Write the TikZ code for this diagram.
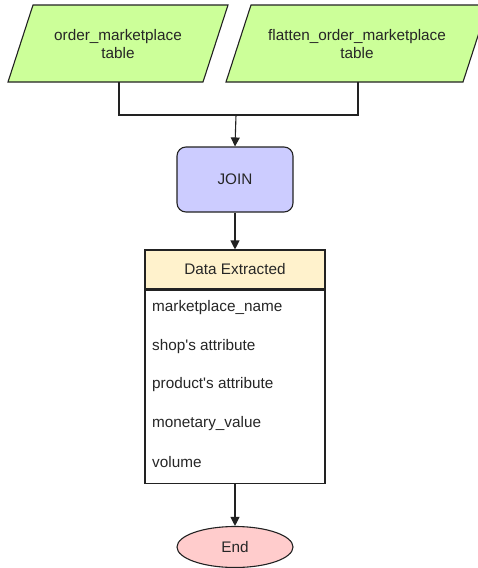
\documentclass[tikz,border=0pt]{standalone}
\usepackage{fontspec}
\setmainfont{Liberation Sans}[Ligatures=TeXOff]
\usetikzlibrary{shapes.geometric,arrows.meta}
\definecolor{greenfill}{HTML}{CCFF99}
\definecolor{joinfill}{HTML}{CCCCFF}
\definecolor{headfill}{HTML}{FFF2CC}
\definecolor{endfill}{HTML}{FFCCCC}
\definecolor{stroke}{HTML}{222222}
\tikzset{
  shapeline/.style={draw=stroke, line width=1.1pt},
  lbl/.style={font=\fontsize{15.3}{18.5}\selectfont, text=black!85, align=center, inner sep=0pt},
  rowtxt/.style={font=\fontsize{15.3}{18.5}\selectfont, text=black!85, anchor=west, inner sep=0pt},
  conn/.style={draw=stroke, line width=1.1pt},
  arr/.style={conn, -{Triangle[length=9pt,width=9pt]}},
}
\begin{document}
\begin{tikzpicture}[x=1pt,y=-1pt]
\useasboundingbox (0,0) rectangle (478,568);
\clip (0,0) rectangle (478,568);
% parallelograms
\filldraw[shapeline, fill=greenfill] (33,5) -- (228,5) -- (203,82) -- (8,82) -- cycle;
\node[lbl] (t1) at (118,44) {order\_marketplace\\table};
\filldraw[shapeline, fill=greenfill] (251,5) -- (488,5) -- (463,82) -- (226,82) -- cycle;
\node[lbl] (t2) at (357,44) {flatten\_order\_marketplace\\table};
\coordinate (b1) at (119,82);
\coordinate (b2) at (358,82);
\coordinate (m) at (236,115);
% JOIN
\node[shapeline, fill=joinfill, rounded corners=9pt, minimum width=116pt, minimum height=65pt, lbl] (join) at (235,179.5) {JOIN};
\draw[conn] (b1) |- (m);
\draw[conn] (b2) |- (m);
\draw[arr] (m) -- (join.north);
% Data Extracted table
\node[shapeline, fill=headfill, minimum width=180pt, minimum height=39pt, lbl] (head) at (235,269.5) {Data Extracted};
\node[shapeline, fill=white, minimum width=180pt, minimum height=193pt, anchor=north] (body) at (head.south) {};
\draw[arr] (join.south) -- (head.north);
\node[rowtxt] (r1) at (152,308) {marketplace\_name};
\node[rowtxt] (r2) at (152,347) {shop's attribute};
\node[rowtxt] (r3) at (152,385) {product's attribute};
\node[rowtxt] (r4) at (152,424) {monetary\_value};
\node[rowtxt] (r5) at (152,462) {volume};
% End
\node[shapeline, fill=endfill, ellipse, minimum width=116pt, minimum height=41pt, inner sep=0pt, lbl] (end) at (235,547) {End};
\draw[arr] (body.south) -- (end.north);
\end{tikzpicture}
\end{document}
